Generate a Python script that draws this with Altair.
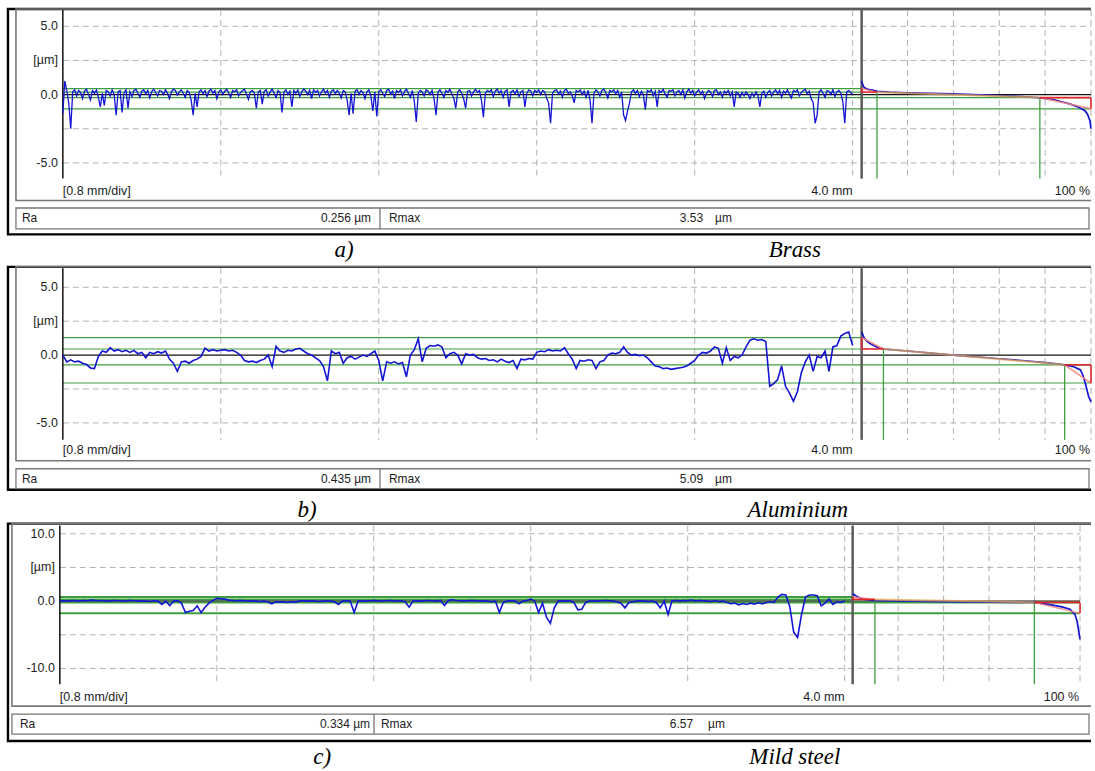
import altair as alt
import numpy as np
import pandas as pd

# ---------------------------------------------------------------------------
# Roughness profiles (height in µm), sampled evenly along the 4.0 mm traverse
# ---------------------------------------------------------------------------
brass_profile = [
    -1.4, 1.0, 0.3, -0.6, -2.5, 0.2, 0.35, -0.1, 0.3, 0.15, -0.3, 0.25, 0.4, 0.0, -0.4, 0.3, 0.1, 0.35, -0.2, -0.9,
    0.1, -0.8, 0.3, 0.2, -0.1, 0.35, 0.0, -1.5, 0.2, 0.3, -1.3, 0.1, 0.35, -1.0, 0.2, -0.15, 0.3, 0.4, 0.1, -0.2,
    0.25, 0.35, 0.05, 0.3, -0.25, 0.2, 0.4, 0.15, -0.1, 0.3, 0.25, 0.0, 0.35, 0.1, -0.3, 0.2, 0.4, 0.3, -0.05, 0.2,
    0.35, 0.1, -0.2, 0.3, 0.15, -0.4, -1.5, 0.1, -0.9, 0.2, 0.35, 0.05, 0.3, -0.15, 0.25, 0.4, 0.1, 0.3, -0.3, 0.2,
    0.35, 0.0, 0.25, 0.4, 0.1, -0.2, 0.3, 0.2, 0.35, -0.1, 0.15, 0.3, 0.4, 0.05, -0.35, 0.2, 0.3, 0.1, -1.0, 0.2,
    0.3, -0.7, 0.25, 0.35, -0.1, 0.2, 0.4, 0.1, -0.2, 0.3, 0.15, -1.3, 0.2, 0.35, 0.0, 0.25, -0.9, 0.3, 0.1, 0.35,
    -0.15, 0.2, 0.4, 0.25, 0.0, 0.3, -0.3, 0.35, 0.15, 0.3, -0.1, 0.2, 0.4, 0.1, 0.3, -0.2, 0.25, 0.35, 0.05, 0.3,
    0.1, -0.25, 0.3, 0.2, -0.4, -1.5, 0.1, -1.4, 0.25, 0.35, 0.0, 0.3, 0.15, -0.3, 0.2, 0.35, -0.1, -1.2, 0.2, -1.6,
    0.2, 0.35, 0.1, -0.15, 0.3, 0.4, 0.05, 0.25, -0.3, 0.3, 0.15, 0.35, -0.1, 0.2, 0.4, 0.1, -0.2, 0.3, -0.5, -2.0,
    0.1, 0.3, 0.2, -0.1, 0.35, 0.25, 0.0, 0.3, -0.3, -1.5, 0.2, 0.35, 0.1, -0.2, 0.3, 0.15, 0.4, 0.05, -0.25, -1.0,
    0.2, 0.35, 0.1, -0.3, -1.0, 0.25, 0.3, -0.1, 0.2, 0.4, 0.15, 0.3, -0.4, -1.65, 0.1, 0.3, 0.2, 0.35, -0.15, 0.25,
    0.4, 0.1, 0.3, -0.2, 0.25, 0.35, -0.9, 0.2, 0.3, 0.05, 0.35, -0.15, 0.2, 0.3, -0.9, 0.1, 0.35, 0.25, -0.1, 0.3,
    0.15, 0.35, 0.0, 0.3, 0.2, -0.25, -0.6, -2.1, 0.1, 0.3, 0.35, 0.05, 0.25, -0.2, 0.3, 0.4, 0.1, 0.2, -0.1, -0.6,
    0.3, 0.2, 0.35, 0.0, 0.25, -0.2, 0.3, -0.4, -2.1, 0.1, 0.35, 0.2, -0.1, 0.3, 0.4, 0.15, -0.25, 0.3, 0.2, 0.35,
    0.05, 0.3, -0.2, 0.2, -1.5, -1.9, -1.2, -0.6, 0.2, 0.35, 0.1, 0.3, -0.15, 0.25, 0.0, -1.1, 0.3, 0.2, 0.35, -0.1,
    0.25, -0.9, 0.3, 0.15, 0.4, 0.05, -0.2, 0.3, 0.25, 0.35, -0.1, 0.2, 0.3, 0.0, 0.35, -0.25, 0.2, 0.4, 0.1, 0.3,
    -0.1, 0.2, 0.35, 0.05, 0.25, -0.3, 0.1, 0.3, 0.2, -0.15, 0.3, 0.35, 0.0, 0.2, -0.2, 0.25, 0.1, 0.3, -0.1, 0.2,
    -0.9, 0.2, 0.1, -0.2, 0.15, -0.1, 0.2, 0.0, -0.3, 0.1, -0.15, 0.2, -0.05, -0.9, 0.1, 0.25, -0.2, 0.15, 0.3, -0.1,
    0.2, 0.35, 0.05, 0.3, -0.2, 0.25, 0.1, 0.35, 0.0, -0.25, 0.3, 0.2, 0.35, -0.1, 0.15, 0.3, 0.4, 0.05, 0.25, -0.3,
    -0.6, -2.1, -1.5, 0.2, 0.35, 0.1, -0.2, 0.3, 0.25, 0.0, 0.35, -0.15, 0.2, 0.3, 0.1, -0.5, -2.1, 0.2, 0.3, 0.15,
    0.0,
]

aluminium_profile = [
    0.0, -0.5, -0.35, -0.5, -0.45, -0.6, -0.7, -0.95, -1.0, -0.1,
    0.3, 0.2, 0.55, 0.3, 0.4, 0.25, 0.35, 0.2, 0.35, 0.1,
    0.2, -0.2, 0.2, 0.1, 0.25, 0.15, 0.3, -0.3, -0.6, -1.2,
    -0.5, -0.45, -0.6, -0.4, -0.3, -0.1, 0.5, 0.3, 0.4, 0.3,
    0.35, 0.4, 0.3, 0.35, 0.2, 0.0, -0.4, -0.5, -0.45, -0.55,
    -0.4, -0.3, 0.0, -0.85, 0.65, 0.3, 0.2, 0.35, 0.3, 0.45,
    0.5, 0.3, 0.1, 0.0, -0.2, -0.4, -0.85, -1.9, 0.3, 0.1,
    0.2, -0.6, -0.2, -0.1, -0.3, -0.15, 0.0, -0.1, 0.1, 0.3,
    -0.4, -1.9, -0.5, -0.6, -0.5, -0.65, -0.55, -1.6, 0.0, 0.4,
    1.2, -0.5, 0.5, 0.7, 0.65, 0.75, 0.6, -0.2, 0.1, 0.2,
    0.0, -0.65, 0.1, 0.0, 0.05, -0.2, -0.3, -0.25, -0.4, -0.35,
    -0.5, -0.3, -0.45, -0.55, -0.4, -1.0, -0.3, -0.35, -0.25, -0.3,
    0.2, 0.3, 0.25, 0.4, 0.3, 0.35, 0.3, 0.55, 0.1, -0.3,
    -1.0, -0.4, -0.45, -0.35, -0.4, -1.0, -0.5, -0.4, 0.0, 0.15,
    0.1, 0.2, 0.6, 0.2, 0.0, 0.05, -0.05, 0.0, -0.2, -0.5,
    -0.8, -0.85, -1.0, -0.95, -1.05, -1.0, -0.95, -0.9, -0.8, -0.6,
    -0.4, 0.0, 0.2, 0.15, 0.3, 0.6, 0.5, -0.6, 0.55, -0.4,
    -0.1, -0.2, 0.0, 0.6, 1.1, 1.2, 1.1, 1.15, 1.0, -2.3,
    -2.1, -1.8, -0.8, -2.3, -2.8, -3.4, -2.7, -1.3, -0.5, 0.0,
    -1.2, -0.1, -0.2, 0.3, -1.2, 0.6, 0.7, 1.4, 1.6, 1.7,
    0.7,
]

steel_profile = [
    0.0, 0.05, 0.0, 0.1, 0.05, 0.0, 0.1, 0.05, 0.15, 0.1,
    0.05, 0.1, 0.0, 0.05, 0.1, 0.05, 0.0, 0.05, 0.1, 0.05,
    0.0, 0.05, 0.0, -0.05, 0.05, 0.0, -0.5, 0.0, -0.65, 0.0,
    0.05, -0.3, -1.7, -1.5, -1.4, -0.7, -1.7, -0.9, -0.3, 0.1,
    0.4, 0.35, 0.3, 0.15, 0.1, 0.05, 0.1, 0.05, 0.0, 0.05,
    0.0, -0.05, 0.0, -0.1, -0.4, -0.1, -0.15, -0.1, -0.2, -0.1,
    -0.15, 0.0, 0.05, 0.0, 0.05, 0.0, -0.05, 0.0, 0.05, 0.0,
    -0.1, -0.5, 0.0, 0.05, 0.0, -1.7, 0.0, 0.05, 0.0, 0.05,
    0.1, 0.05, 0.0, 0.05, 0.1, 0.05, 0.0, 0.05, -0.1, -0.9,
    0.0, 0.05, 0.0, 0.05, 0.1, 0.05, 0.0, 0.1, -0.65, 0.1,
    0.2, 0.1, 0.05, 0.0, 0.05, 0.1, 0.05, 0.0, 0.05, 0.0,
    -0.1, 0.0, -1.7, -0.2, 0.0, 0.05, 0.0, -0.4, 0.0, 0.1,
    0.3, 0.0, -1.7, -0.3, -2.4, -3.3, -1.0, 0.0, 0.05, 0.0,
    0.05, -0.2, -1.3, -1.2, -0.2, 0.0, 0.05, 0.0, 0.05, 0.1,
    0.05, 0.0, -0.1, -0.3, -1.0, -0.2, -0.1, 0.0, 0.05, 0.0,
    -0.05, 0.0, -0.2, -1.0, 0.0, -2.0, 0.05, 0.1, 0.0, 0.1,
    0.05, 0.15, 0.0, 0.1, 0.05, 0.0, -0.05, 0.05, -0.1, 0.0,
    -0.2, -0.4, -0.3, -0.55, -0.35, -0.5, -0.3, -0.45, -0.25, -0.4,
    -0.2, -0.1, -0.2, 0.6, 1.0, 0.9, -0.8, -4.6, -5.4, -2.0,
    0.6, 0.9, 0.9, 0.8, -0.7, -0.3, 0.3, -0.5, -0.1, -0.2,
    0.0,
]

# ---------------------------------------------------------------------------
# Material-ratio (Abbott-Firestone) curves: ratio in %, height in µm
# ---------------------------------------------------------------------------
brass_ratio = [0, 0.5, 1.2, 2.5, 4, 7, 12, 20, 40, 60, 70, 78, 84, 88, 91, 94, 96, 97.5, 98.5, 99.5, 100]
brass_height = [1.0, 0.7, 0.49, 0.4, 0.34, 0.24, 0.18, 0.13, 0.05, -0.07, -0.14, -0.24, -0.38, -0.56,
                -0.7, -0.88, -1.05, -1.2, -1.45, -1.9, -2.5]

aluminium_ratio = [0, 1.2, 2.5, 4, 7, 10, 20, 40, 60, 70, 80, 86, 89, 92.5, 95.4, 96.5, 97.5, 98.3, 99, 99.6, 100]
aluminium_height = [1.71, 1.22, 1.0, 0.81, 0.56, 0.44, 0.3, 0.0, -0.27, -0.4, -0.55, -0.66, -0.74, -0.86,
                    -1.1, -1.5, -2.08, -2.6, -3.07, -3.3, -3.45]

steel_ratio = [0, 1.5, 3.6, 6, 9.5, 20, 40, 60, 80, 88, 92, 95.6, 97.8, 98.7, 99.3, 100]
steel_height = [1.1, 0.75, 0.4, 0.2, 0.1, 0.02, -0.08, -0.15, -0.2, -0.6, -0.85, -1.2, -2.0, -3.0, -4.2, -5.7]

# Rk construction: peak level, core limits, valley level (µm); Mr1 / Mr2 (%)
brass_rk = {"top": 0.44, "upper": 0.18, "lower": -0.22, "bottom": -1.04, "mr1": 6.7, "mr2": 77.7}
aluminium_rk = {"top": 1.29, "upper": 0.45, "lower": -0.72, "bottom": -2.06, "mr1": 9.5, "mr2": 88.5}
steel_rk = {"top": 0.62, "upper": 0.25, "lower": -0.19, "bottom": -1.82, "mr1": 9.8, "mr2": 79.9}

# Parameter read-outs
ra_values = ["0.256", "0.435", "0.334"]
rmax_values = ["3.53", "5.09", "6.57"]
panel_letters = ["a)", "b)", "c)"]
materials = ["Brass", "Aluminium", "Mild steel"]

# Height-axis labels
ticks_5 = [5, 2.5, 0, -5]
tick_labels_5 = ["5.0", "[µm]", "0.0", "-5.0"]
ticks_10 = [10, 5, 0, -10]
tick_labels_10 = ["10.0", "[µm]", "0.0", "-10.0"]
grid_mm = [0.8, 1.6, 2.4, 3.2, 4.0]
grid_pct = [20, 40, 60, 80, 100]

# ---------------------------------------------------------------------------
# Styling and page geometry
# ---------------------------------------------------------------------------
FONT = "Liberation Sans"
SERIF = "Liberation Serif"
BLUE = "#1414d4"
GREEN = "#3f9f3f"
RED = "#e3262b"
PINK = "#f2807c"
ORANGE = "#e8a850"
GRID = "#b2b2b2"
FRAME = "#777777"
INK = "#1c1c1c"
LABEL_SIZE = 12.5
READOUT_SIZE = 12
CAPTION_SIZE = 23

ORIGIN_X = 6
PANEL_W = 1088

layouts = [
    dict(top=6, height=256, border=(8, 8, 1100, 234), frame=(16, 8, 1100, 200),
         rabox=(16, 207.5, 1092, 228.5), divider=381,
         x0=63, x4=855, a0=864, a100=1094, y_zero=93.8, ppu=13.7, axis_top=9, axis_bot=178,
         tick_right=58, ticks=ticks_5, tick_labels=tick_labels_5, grid_y=[5, 2.5, -2.5, -5],
         lab_y=190, ra_x=22, ra_y=218, ra_val_right=372, rmax_left=390, rmax_val_right=705,
         rmax_unit_left=717, cap_y=257, cap1_x=345, cap2_x=797, lvl_w=1.2, prof_w=1.3),
    dict(top=262, height=259, border=(8, 266.5, 1100, 490), frame=(16, 266.5, 1100, 461),
         rabox=(16, 469, 1092, 489), divider=381,
         x0=63, x4=855, a0=864, a100=1094, y_zero=355, ppu=13.6, axis_top=268, axis_bot=440,
         tick_right=58, ticks=ticks_5, tick_labels=tick_labels_5, grid_y=[5, 2.5, -2.5, -5],
         lab_y=450.5, ra_x=22, ra_y=479, ra_val_right=372, rmax_left=390, rmax_val_right=705,
         rmax_unit_left=717, cap_y=517, cap1_x=308, cap2_x=800, lvl_w=1.2, prof_w=1.6),
    dict(top=521, height=247, border=(8, 524, 1100, 742), frame=(12, 524, 1100, 707),
         rabox=(12, 715, 1092, 735), divider=375,
         x0=60, x4=847, a0=855, a100=1083, y_zero=601.7, ppu=6.75, axis_top=526, axis_bot=685,
         tick_right=55, ticks=ticks_10, tick_labels=tick_labels_10, grid_y=[10, 5, -5, -10],
         lab_y=698, ra_x=20, ra_y=725, ra_val_right=371, rmax_left=382, rmax_val_right=695,
         rmax_unit_left=710, cap_y=765, cap1_x=323, cap2_x=797, lvl_w=2.0, prof_w=1.6),
]


def build_panel(g, profile, ratio, height, rk, ra, rmax, letter, material):
    y0, H = g["top"], g["height"]

    def lx(p):
        return p - ORIGIN_X

    def ly(p):
        return p - y0

    ppm = (g["x4"] - g["x0"]) / 4.0          # px per mm
    ppp = (g["a100"] - g["a0"]) / 100.0      # px per %
    ppu = g["ppu"]                           # px per µm
    xs = alt.Scale(domain=[-lx(g["x0"]) / ppm, (PANEL_W - lx(g["x0"])) / ppm], nice=False, zero=False)
    ps = alt.Scale(domain=[-lx(g["a0"]) / ppp, (PANEL_W - lx(g["a0"])) / ppp], nice=False, zero=False)
    ys = alt.Scale(domain=[-(H - ly(g["y_zero"])) / ppu, ly(g["y_zero"]) / ppu], nice=False, zero=False)
    z_top = (g["y_zero"] - g["axis_top"]) / ppu
    z_bot = (g["y_zero"] - g["axis_bot"]) / ppu
    axis_mm = (g["a0"] - g["x0"]) / ppm

    layers = []

    # frames: outer border, plot frame, read-out box
    boxes = pd.DataFrame([
        {"x": lx(g["border"][0]), "y": ly(g["border"][1]), "x2": lx(g["border"][2]), "y2": ly(g["border"][3]),
         "c": "#000000", "w": 2.4},
        {"x": lx(g["frame"][0]), "y": ly(g["frame"][1]), "x2": lx(g["frame"][2]), "y2": ly(g["frame"][3]),
         "c": FRAME, "w": 1.6},
        {"x": lx(g["rabox"][0]), "y": ly(g["rabox"][1]), "x2": lx(g["rabox"][2]), "y2": ly(g["rabox"][3]),
         "c": FRAME, "w": 1.3},
    ])
    layers.append(alt.Chart(boxes).mark_rect(fill="white", fillOpacity=0, clip=True).encode(
        x=alt.X("x:Q", scale=None, axis=None), x2="x2:Q",
        y=alt.Y("y:Q", scale=None, axis=None), y2="y2:Q",
        stroke=alt.Stroke("c:N", scale=None), strokeWidth=alt.StrokeWidth("w:Q", scale=None)))
    layers.append(alt.Chart(pd.DataFrame({"k": [0]})).mark_rule(color=FRAME, strokeWidth=1.3).encode(
        x=alt.value(lx(g["divider"])), y=alt.value(ly(g["rabox"][1])), y2=alt.value(ly(g["rabox"][3]))))

    # dashed grid
    layers.append(alt.Chart(pd.DataFrame({"v": g["grid_y"]})).mark_rule(
        color=GRID, strokeDash=[6, 4], strokeWidth=1).encode(
        x=alt.value(lx(g["x0"])), x2=alt.value(lx(g["a100"])), y=alt.Y("v:Q", scale=ys, axis=None)))
    layers.append(alt.Chart(pd.DataFrame({"v": grid_mm, "t": z_top, "b": z_bot})).mark_rule(
        color=GRID, strokeDash=[6, 4], strokeWidth=1).encode(
        x=alt.X("v:Q", scale=xs, axis=None), y=alt.Y("t:Q", scale=ys, axis=None), y2="b:Q"))
    layers.append(alt.Chart(pd.DataFrame({"v": grid_pct, "t": z_top, "b": z_bot})).mark_rule(
        color=GRID, strokeDash=[6, 4], strokeWidth=1).encode(
        x=alt.X("v:Q", scale=ps, axis=None), y=alt.Y("t:Q", scale=ys, axis=None), y2="b:Q"))

    # level lines over the profile
    lw = g["lvl_w"]
    prof_lvls = pd.DataFrame([
        {"x": 0.0, "x2": axis_mm, "y": rk["top"], "c": GREEN, "w": lw},
        {"x": 0.0, "x2": axis_mm, "y": rk["upper"], "c": GREEN, "w": lw},
        {"x": 0.0, "x2": axis_mm, "y": 0.0, "c": "#111111", "w": 1.2},
        {"x": 0.0, "x2": axis_mm, "y": rk["lower"], "c": GREEN, "w": lw},
        {"x": 0.0, "x2": axis_mm, "y": rk["bottom"], "c": GREEN, "w": lw},
    ])
    layers.append(alt.Chart(prof_lvls).mark_rule().encode(
        x=alt.X("x:Q", scale=xs, axis=None), x2="x2:Q", y=alt.Y("y:Q", scale=ys, axis=None),
        color=alt.Color("c:N", scale=None), strokeWidth=alt.StrokeWidth("w:Q", scale=None)))

    # level lines and Mr verticals in the material-ratio pane
    abb_lvls = pd.DataFrame([
        {"x": 0, "x2": 100, "y": 0.0, "y2": 0.0, "c": "#111111", "w": 1.2},
        {"x": 0, "x2": 100, "y": rk["lower"], "y2": rk["lower"], "c": GREEN, "w": lw},
        {"x": 0, "x2": 100, "y": rk["bottom"], "y2": rk["bottom"], "c": GREEN, "w": lw},
        {"x": rk["mr1"], "x2": rk["mr1"], "y": rk["upper"], "y2": z_bot, "c": GREEN, "w": 1.3},
        {"x": rk["mr2"], "x2": rk["mr2"], "y": rk["lower"], "y2": z_bot, "c": GREEN, "w": 1.3},
    ])
    layers.append(alt.Chart(abb_lvls).mark_rule().encode(
        x=alt.X("x:Q", scale=ps, axis=None), x2="x2:Q", y=alt.Y("y:Q", scale=ys, axis=None), y2="y2:Q",
        color=alt.Color("c:N", scale=None), strokeWidth=alt.StrokeWidth("w:Q", scale=None)))

    # axis lines
    axis_df = pd.DataFrame({"v": [0.0], "t": [z_top], "b": [z_bot]})
    layers.append(alt.Chart(axis_df).mark_rule(color="#111111", strokeWidth=1.5).encode(
        x=alt.X("v:Q", scale=xs, axis=None), y=alt.Y("t:Q", scale=ys, axis=None), y2="b:Q"))
    layers.append(alt.Chart(axis_df).mark_rule(color="#5a5a5a", strokeWidth=2.5).encode(
        x=alt.X("v:Q", scale=ps, axis=None), y=alt.Y("t:Q", scale=ys, axis=None), y2="b:Q"))

    # measured profile
    n = len(profile)
    prof_df = pd.DataFrame({"mm": np.arange(n) * (4.0 / (n - 1)), "z": profile})
    layers.append(alt.Chart(prof_df).mark_line(color=BLUE, strokeWidth=g["prof_w"]).encode(
        x=alt.X("mm:Q", scale=xs, axis=None), y=alt.Y("z:Q", scale=ys, axis=None)))

    # material-ratio curve
    abb_df = pd.DataFrame({"pct": ratio, "z": height})
    layers.append(alt.Chart(abb_df).mark_line(color=BLUE, strokeWidth=1.7).encode(
        x=alt.X("pct:Q", scale=ps, axis=None), y=alt.Y("z:Q", scale=ys, axis=None)))

    # Rk construction
    rk_df = pd.DataFrame([
        {"x": rk["mr1"], "x2": rk["mr2"], "y": rk["upper"], "y2": rk["lower"], "c": ORANGE, "w": 2.0, "o": 0.75},
        {"x": 0, "x2": rk["mr1"], "y": rk["top"], "y2": rk["upper"], "c": PINK, "w": 1.5, "o": 0.9},
        {"x": rk["mr2"], "x2": 100, "y": rk["lower"], "y2": rk["bottom"], "c": PINK, "w": 1.5, "o": 0.9},
        {"x": 0, "x2": 0, "y": rk["upper"], "y2": rk["top"], "c": RED, "w": 1.6, "o": 1.0},
        {"x": 0, "x2": rk["mr1"], "y": rk["upper"], "y2": rk["upper"], "c": RED, "w": 1.6, "o": 1.0},
        {"x": rk["mr2"], "x2": 100, "y": rk["lower"], "y2": rk["lower"], "c": RED, "w": 1.6, "o": 1.0},
        {"x": 100, "x2": 100, "y": rk["lower"], "y2": rk["bottom"], "c": RED, "w": 1.6, "o": 1.0},
    ])
    layers.append(alt.Chart(rk_df).mark_rule().encode(
        x=alt.X("x:Q", scale=ps, axis=None), x2="x2:Q", y=alt.Y("y:Q", scale=ys, axis=None), y2="y2:Q",
        color=alt.Color("c:N", scale=None), strokeWidth=alt.StrokeWidth("w:Q", scale=None),
        opacity=alt.Opacity("o:Q", scale=None)))

    # height-axis labels
    tick_df = pd.DataFrame({"v": g["ticks"], "t": g["tick_labels"]})
    layers.append(alt.Chart(tick_df).mark_text(
        align="right", baseline="middle", font=FONT, fontSize=LABEL_SIZE, color=INK).encode(
        x=alt.value(lx(g["tick_right"])), y=alt.Y("v:Q", scale=ys, axis=None), text="t:N"))

    # scale annotations under the plot
    scale_left = pd.DataFrame([{"x": lx(g["x0"]), "y": ly(g["lab_y"]), "t": "[0.8 mm/div]"}])
    scale_right = pd.DataFrame([
        {"x": lx(g["x4"]), "y": ly(g["lab_y"]), "t": "4.0 mm"},
        {"x": lx(g["a100"]) - 1, "y": ly(g["lab_y"]), "t": "100 %"},
    ])
    # parameter read-out row
    read_left = pd.DataFrame([
        {"x": lx(g["ra_x"]), "y": ly(g["ra_y"]), "t": "Ra"},
        {"x": lx(g["rmax_left"]), "y": ly(g["ra_y"]), "t": "Rmax"},
        {"x": lx(g["rmax_unit_left"]), "y": ly(g["ra_y"]), "t": "µm"},
    ])
    read_right = pd.DataFrame([
        {"x": lx(g["ra_val_right"]), "y": ly(g["ra_y"]), "t": f"{ra} µm"},
        {"x": lx(g["rmax_val_right"]), "y": ly(g["ra_y"]), "t": rmax},
    ])
    for df, al, size in ((scale_left, "left", LABEL_SIZE), (scale_right, "right", LABEL_SIZE),
                         (read_left, "left", READOUT_SIZE), (read_right, "right", READOUT_SIZE)):
        layers.append(alt.Chart(df).mark_text(
            align=al, baseline="middle", font=FONT, fontSize=size, color=INK).encode(
            x=alt.X("x:Q", scale=None, axis=None), y=alt.Y("y:Q", scale=None, axis=None), text="t:N"))

    cap_df = pd.DataFrame([
        {"x": lx(g["cap1_x"]), "y": ly(g["cap_y"]), "t": letter},
        {"x": lx(g["cap2_x"]), "y": ly(g["cap_y"]), "t": material},
    ])
    layers.append(alt.Chart(cap_df).mark_text(
        align="center", baseline="alphabetic", font=SERIF, fontStyle="italic", fontSize=CAPTION_SIZE,
        color="#000000").encode(
        x=alt.X("x:Q", scale=None, axis=None), y=alt.Y("y:Q", scale=None, axis=None), text="t:N"))

    return alt.layer(*layers).resolve_scale(x="independent", y="independent").properties(
        width=PANEL_W, height=H)


profiles = [brass_profile, aluminium_profile, steel_profile]
ratios = [brass_ratio, aluminium_ratio, steel_ratio]
heights = [brass_height, aluminium_height, steel_height]
rks = [brass_rk, aluminium_rk, steel_rk]

panels = [
    build_panel(layouts[i], profiles[i], ratios[i], heights[i], rks[i],
                ra_values[i], rmax_values[i], panel_letters[i], materials[i])
    for i in range(3)
]

chart = alt.vconcat(*panels, spacing=0, bounds="flush").properties(
    padding={"left": ORIGIN_X, "top": 6, "right": 0, "bottom": 0},
    background="white",
).configure_view(stroke=None)

chart.save("out.html", embed_options={"renderer": "svg", "actions": False})
